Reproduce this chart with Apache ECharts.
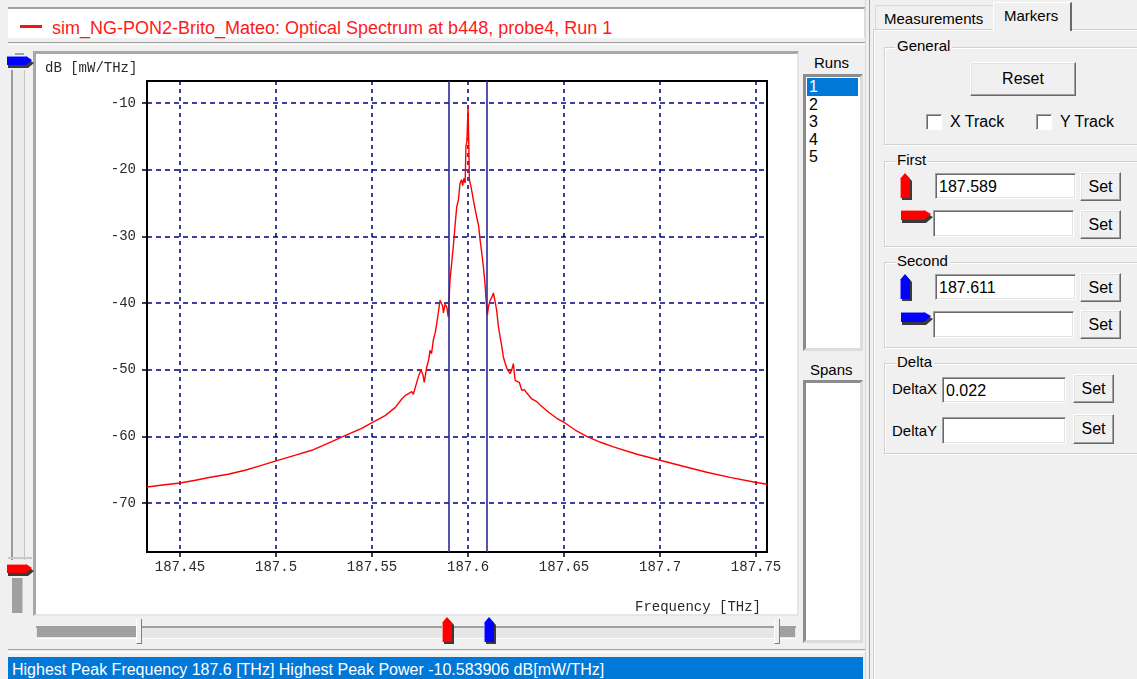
<!DOCTYPE html>
<html>
<head>
<meta charset="utf-8">
<title>Optical Spectrum</title>
<script src="https://cdn.jsdelivr.net/npm/echarts@6/dist/echarts.min.js"></script>
<style>
  html, body { margin: 0; padding: 0; }
  body {
    width: 1137px; height: 679px; overflow: hidden; position: relative;
    background: #f0f0f0; color: #000;
    font-family: "Liberation Sans", Arial, sans-serif;
  }
  .abs { position: absolute; box-sizing: border-box; }
  .txt { position: absolute; white-space: nowrap; line-height: 1; }
  .btn {
    position: absolute; box-sizing: border-box; background: #f0f0f0;
    border-top: 1px solid #fff; border-left: 1px solid #fff;
    border-right: 1px solid #696969; border-bottom: 1px solid #696969;
    box-shadow: inset -1px -1px 0 #a0a0a0, inset 1px 1px 0 #e3e3e3;
    font-size: 16px; display: flex; align-items: center; justify-content: center;
  }
  .inp {
    position: absolute; box-sizing: border-box; background: #fff;
    border-top: 1px solid #a0a0a0; border-left: 1px solid #a0a0a0;
    border-right: 1px solid #fff; border-bottom: 1px solid #fff;
    box-shadow: inset 1px 1px 0 #696969, inset -1px -1px 0 #e3e3e3;
    font-size: 16px; padding: 4px 0 0 3px;
  }
  .grp {
    position: absolute; box-sizing: border-box;
    border: 1px solid #d0d0d0; box-shadow: 1px 1px 0 #fff inset, 1px 1px 0 #fff;
  }
  .grp > span {
    position: absolute; left: 10px; top: -10px; background: #f0f0f0;
    padding: 0 2px; font-size: 15px; line-height: 1;
  }
  .chk {
    position: absolute; box-sizing: border-box; width: 16px; height: 16px; background: #fff;
    border-top: 1px solid #a0a0a0; border-left: 1px solid #a0a0a0;
    border-right: 1px solid #fff; border-bottom: 1px solid #fff;
    box-shadow: inset 1px 1px 0 #696969;
  }
  #chart { position: absolute; left: 0; top: 0; width: 1137px; height: 679px; z-index: 1; }
  .mk { position: absolute; z-index: 2; }
</style>
</head>
<body>

<!-- window title strip -->
<div class="abs" style="left:8px;top:7px;width:858px;height:31px;background:#fff;border-top:2px solid #a0a0a0;border-right:2px solid #dcdcdc;"></div>
<div class="abs" style="left:20px;top:25px;width:22px;height:3px;background:#ff1010;"></div>
<div class="txt" id="title" style="left:52px;top:19px;font-size:18px;color:#ff1a1a;"></div>
<div class="abs" style="left:8px;top:42px;width:858px;height:3px;border-top:1px solid #a0a0a0;border-bottom:1px solid #fff;"></div>

<!-- plot panel -->
<div class="abs" style="left:33px;top:51px;width:766px;height:565px;background:#fff;border-top:3px solid #a8a8a8;border-left:3px solid #a8a8a8;border-right:2px solid #e6e6e6;border-bottom:2px solid #e6e6e6;"></div>

<!-- vertical (power) slider -->
<div class="abs" style="left:15px;top:53px;width:9px;height:2px;background:#a0a0a0;"></div>
<div class="abs" style="left:11px;top:70px;width:14px;height:490px;background:#ececec;border-left:2px solid #9a9a9a;border-right:1px solid #c4c4c4;"></div>
<div class="abs" style="left:8px;top:557px;width:24px;height:2px;background:#c8c8c8;"></div>
<div class="abs" style="left:12px;top:578px;width:11px;height:35px;background:#a0a0a0;border-right:1px solid #c8c8c8;"></div>
<svg class="mk" style="left:7px;top:55px;" width="28" height="14"><polygon points="1,4 21,4 27,8 21,13 1,13" fill="#3a3a3a"/><polygon points="0,1 19,1 25,5 19,10 0,10" fill="#0000ff"/><line x1="0" y1="1.5" x2="19" y2="1.5" stroke="#8080ff"/></svg>
<svg class="mk" style="left:7px;top:563px;" width="28" height="14"><polygon points="1,4 21,4 27,8 21,13 1,13" fill="#3a3a3a"/><polygon points="0,1 19,1 25,5 19,10 0,10" fill="#ff0000"/><line x1="0" y1="1.5" x2="19" y2="1.5" stroke="#ff9090"/></svg>

<!-- horizontal (frequency) slider -->
<div class="abs" style="left:36px;top:626px;width:760px;height:13px;background:#e6e6e6;border-top:2px solid #a0a0a0;border-bottom:1px solid #fff;"></div>
<div class="abs" style="left:37px;top:627px;width:100px;height:10px;background:#a0a0a0;"></div>
<div class="abs" style="left:136px;top:619px;width:6px;height:25px;background:#f0f0f0;border-left:1px solid #fff;border-right:1px solid #808080;border-bottom:1px solid #808080;"></div>
<div class="abs" style="left:780px;top:627px;width:15px;height:10px;background:#a0a0a0;"></div>
<div class="abs" style="left:774px;top:619px;width:6px;height:25px;background:#f0f0f0;border-left:1px solid #fff;border-right:1px solid #808080;border-bottom:1px solid #808080;"></div>
<svg class="mk" id="sliderFirst" style="left:440px;top:616px;" width="17" height="29"><polygon points="3,9 7.5,3 13,9 13,28 3,28" fill="#3a3a3a"/><polygon points="1,7 6,1 11,7 11,26 1,26" fill="#ff0000"/><line x1="1.5" y1="7" x2="1.5" y2="26" stroke="#ff9090"/></svg>
<svg class="mk" id="sliderSecond" style="left:482px;top:616px;" width="17" height="29"><polygon points="3,9 7.5,3 13,9 13,28 3,28" fill="#3a3a3a"/><polygon points="1,7 6,1 11,7 11,26 1,26" fill="#0000ff"/><line x1="1.5" y1="7" x2="1.5" y2="26" stroke="#8080ff"/></svg>

<!-- runs / spans lists -->
<div class="txt" style="left:814px;top:55px;font-size:15px;">Runs</div>
<div class="abs" id="runList" style="left:803px;top:74px;width:60px;height:277px;background:#fff;border-top:3px solid #8c8c8c;border-left:3px solid #8c8c8c;border-right:3px solid #dcdcdc;border-bottom:3px solid #dcdcdc;"></div>
<div class="txt" style="left:810px;top:362px;font-size:15px;">Spans</div>
<div class="abs" style="left:803px;top:380px;width:60px;height:263px;background:#fff;border-top:3px solid #8c8c8c;border-left:3px solid #8c8c8c;border-right:3px solid #dcdcdc;border-bottom:3px solid #dcdcdc;"></div>

<!-- status bar -->
<div class="abs" style="left:8px;top:649px;width:858px;height:4px;border-top:1px solid #a0a0a0;border-bottom:1px solid #fff;"></div>
<div class="abs" style="left:8px;top:657px;width:855px;height:22px;background:#0078d7;"></div>
<div class="txt" id="status" style="left:12px;top:662px;font-size:16px;color:#fff;"></div>

<!-- side pane -->
<div class="abs" style="left:865px;top:0;width:5px;height:679px;border-left:1px solid #d8d8d8;border-right:1px solid #a0a0a0;"></div>
<div class="abs" style="left:874px;top:30px;width:270px;height:660px;border-top:1px solid #fff;border-left:1px solid #fff;box-shadow:-1px -1px 0 #d0d0d0;"></div>
<div class="abs" style="left:875px;top:5px;width:119px;height:26px;border-top:1px solid #d8d8d8;border-left:1px solid #d8d8d8;"></div>
<div class="txt" style="left:884px;top:11px;font-size:15px;">Measurements</div>
<div class="abs" style="left:993px;top:2px;width:79px;height:29px;background:#f0f0f0;border-top:1px solid #fff;border-left:1px solid #fff;border-right:2px solid #696969;"></div>
<div class="txt" style="left:1004px;top:8px;font-size:15px;">Markers</div>

<div class="grp" style="left:884px;top:47px;width:262px;height:98px;"><span>General</span></div>
<div class="btn" style="left:970px;top:62px;width:106px;height:34px;">Reset</div>
<div class="chk" style="left:926px;top:114px;"></div>
<div class="txt" style="left:950px;top:114px;font-size:16px;">X Track</div>
<div class="chk" style="left:1036px;top:114px;"></div>
<div class="txt" style="left:1060px;top:114px;font-size:16px;">Y Track</div>

<div class="grp" style="left:884px;top:161px;width:262px;height:86px;"><span>First</span></div>
<svg class="mk" style="left:899px;top:172px;" width="17" height="29"><polygon points="3,9 7.5,3 13,9 13,28 3,28" fill="#3a3a3a"/><polygon points="1,7 6,1 11,7 11,26 1,26" fill="#ff0000"/><line x1="1.5" y1="7" x2="1.5" y2="26" stroke="#ff9090"/></svg>
<div class="inp" id="firstX" style="left:935px;top:173px;width:141px;height:26px;"></div>
<div class="btn" style="left:1080px;top:172px;width:41px;height:29px;">Set</div>
<svg class="mk" style="left:901px;top:209px;" width="33" height="15"><polygon points="1,4 25,4 32,8 25,14 1,14" fill="#3a3a3a"/><polygon points="0,1 23,1 30,5 23,11 0,11" fill="#ff0000"/><line x1="0" y1="1.5" x2="23" y2="1.5" stroke="#ff9090"/></svg>
<div class="inp" style="left:933px;top:210px;width:141px;height:27px;"></div>
<div class="btn" style="left:1080px;top:210px;width:41px;height:29px;">Set</div>

<div class="grp" style="left:884px;top:262px;width:262px;height:86px;"><span>Second</span></div>
<svg class="mk" style="left:899px;top:273px;" width="17" height="29"><polygon points="3,9 7.5,3 13,9 13,28 3,28" fill="#3a3a3a"/><polygon points="1,7 6,1 11,7 11,26 1,26" fill="#0000ff"/><line x1="1.5" y1="7" x2="1.5" y2="26" stroke="#8080ff"/></svg>
<div class="inp" id="secondX" style="left:935px;top:274px;width:141px;height:26px;"></div>
<div class="btn" style="left:1080px;top:273px;width:41px;height:29px;">Set</div>
<svg class="mk" style="left:901px;top:311px;" width="33" height="15"><polygon points="1,4 25,4 32,8 25,14 1,14" fill="#3a3a3a"/><polygon points="0,1 23,1 30,5 23,11 0,11" fill="#0000ff"/><line x1="0" y1="1.5" x2="23" y2="1.5" stroke="#8080ff"/></svg>
<div class="inp" style="left:933px;top:311px;width:141px;height:27px;"></div>
<div class="btn" style="left:1080px;top:310px;width:41px;height:29px;">Set</div>

<div class="grp" style="left:884px;top:363px;width:262px;height:91px;"><span>Delta</span></div>
<div class="txt" style="left:892px;top:381px;font-size:15px;">DeltaX</div>
<div class="inp" id="deltaX" style="left:942px;top:377px;width:124px;height:26px;"></div>
<div class="btn" style="left:1073px;top:374px;width:41px;height:29px;">Set</div>
<div class="txt" style="left:892px;top:423px;font-size:15px;">DeltaY</div>
<div class="inp" style="left:942px;top:417px;width:124px;height:27px;"></div>
<div class="btn" style="left:1073px;top:414px;width:41px;height:30px;">Set</div>

<div id="chart"></div>

<script>
// Spectrum samples: frequency in THz and power density in dB[mW/THz]
const freqTHz = [
  187.4328, 187.4410, 187.4500, 187.4580, 187.4665, 187.4750, 187.4839, 187.4920,
  187.5000, 187.5093, 187.5186, 187.5290, 187.5359, 187.5446, 187.5498, 187.5568,
  187.5620, 187.5655, 187.5672, 187.5690, 187.5707, 187.5715, 187.5728, 187.5740,
  187.5755, 187.5765, 187.5772, 187.5785, 187.5795, 187.5802, 187.5810, 187.5819,
  187.5828, 187.5837, 187.5845, 187.5854, 187.5863, 187.5868, 187.5872, 187.5880,
  187.5889, 187.5897, 187.5902, 187.5906, 187.5915, 187.5923, 187.5932, 187.5941,
  187.5950, 187.5958, 187.5966, 187.5972, 187.5978, 187.5985, 187.5989, 187.5994,
  187.6000, 187.6004, 187.6007, 187.6015, 187.6022, 187.6028, 187.6036, 187.6045,
  187.6050, 187.6055, 187.6063, 187.6072, 187.6080, 187.6088, 187.6094, 187.6101,
  187.6106, 187.6115, 187.6123, 187.6132, 187.6140, 187.6149, 187.6158, 187.6167,
  187.6175, 187.6184, 187.6193, 187.6202, 187.6210, 187.6219, 187.6228, 187.6236,
  187.6245, 187.6255, 187.6267, 187.6280, 187.6293, 187.6306, 187.6332, 187.6358,
  187.6375, 187.6420, 187.6462, 187.6505, 187.6560, 187.6618, 187.6690, 187.6757,
  187.6880, 187.7000, 187.7120, 187.7243, 187.7370, 187.7495, 187.7557
];
const powerDb = [
  -67.6, -67.3, -67.0, -66.6, -66.1, -65.7, -65.1, -64.4,
  -63.7, -62.9, -62.1, -60.8, -59.9, -58.8, -58.0, -56.9,
  -55.7, -54.4, -53.9, -53.6, -53.3, -53.7, -52.4, -51.2,
  -50.0, -50.8, -51.9, -49.6, -48.5, -47.1, -47.6, -45.6,
  -44.6, -43.1, -41.5, -39.6, -39.3, -40.5, -41.5, -40.2,
  -40.6, -42.1, -39.0, -36.6, -34.0, -31.6, -28.5, -25.6,
  -24.5, -22.1, -21.5, -22.4, -21.3, -22.0, -16.5, -15.8,
  -10.583906, -16.3, -21.5, -22.5, -23.6, -24.6, -25.8, -27.1,
  -26.8, -28.4, -30.6, -32.6, -34.6, -37.0, -39.6, -41.8,
  -40.6, -39.6, -39.2, -38.5, -39.6, -41.1, -43.5, -45.1,
  -46.4, -48.1, -49.0, -49.8, -50.1, -50.6, -50.0, -49.1,
  -51.6, -51.3, -51.9, -53.1, -53.0, -53.5, -54.4, -54.8,
  -55.3, -56.4, -57.3, -58.0, -59.1, -60.0, -60.9, -61.6,
  -62.7, -63.6, -64.5, -65.4, -66.2, -66.9, -67.2
];

// Axis ticks and labels
const xTicks = [187.45, 187.5, 187.55, 187.6, 187.65, 187.7, 187.75];
const xTickLabels = ['187.45', '187.5', '187.55', '187.6', '187.65', '187.7', '187.75'];
const yTicks = [-10, -20, -30, -40, -50, -60, -70];
const yTickLabels = ['-10', '-20', '-30', '-40', '-50', '-60', '-70'];
const xRange = [187.4328, 187.7557];
const yRange = [-77.36, -6.70];

// Marker positions, peak readout and run list
const markerFirst = 187.589;
const markerSecond = 187.611;
const peakFreq = 187.6;
const peakPower = -10.583906;
const runs = ['1', '2', '3', '4', '5'];
const selectedRun = '1';
const signalName = 'sim_NG-PON2-Brito_Mateo: Optical Spectrum at b448, probe4, Run 1';

// --- text widgets ---
document.getElementById('title').textContent = signalName;
document.getElementById('status').textContent =
  'Highest Peak Frequency ' + peakFreq + ' [THz] Highest Peak Power ' + peakPower.toFixed(6) + ' dB[mW/THz]';
document.getElementById('firstX').textContent = markerFirst.toFixed(3);
document.getElementById('secondX').textContent = markerSecond.toFixed(3);
document.getElementById('deltaX').textContent = (markerSecond - markerFirst).toFixed(3);

const runList = document.getElementById('runList');
runs.forEach((r, i) => {
  const d = document.createElement('div');
  d.textContent = r;
  d.style.cssText = 'position:absolute;left:1px;width:51px;height:18px;font-size:16px;line-height:18px;padding-left:2px;box-sizing:border-box;top:' + (1 + i * 17.6) + 'px;';
  if (r === selectedRun) { d.style.background = '#0078d7'; d.style.color = '#fff'; }
  runList.appendChild(d);
});

// --- spectrum plot ---
const mono = '"Liberation Mono", "DejaVu Sans Mono", monospace';
const gridColor = '#00007f';
const chart = echarts.init(document.getElementById('chart'), null, { renderer: 'canvas' });
chart.setOption({
  animation: false,
  backgroundColor: 'transparent',
  grid: {
    left: 147, top: 81, width: 620, height: 471,
    show: true, backgroundColor: '#fff', borderColor: '#000', borderWidth: 2,
    containLabel: false, outerBoundsMode: 'none'
  },
  xAxis: {
    type: 'value', min: xRange[0], max: xRange[1],
    axisLine: { show: true, onZero: false, lineStyle: { color: '#000', width: 2 } },
    axisTick: { show: true, customValues: xTicks, length: 5, lineStyle: { color: '#000', width: 1.5 } },
    axisLabel: {
      customValues: xTicks, margin: 8, color: '#2a2a2a', fontFamily: mono, fontSize: 14,
      formatter: v => { const i = xTicks.indexOf(v); return i >= 0 ? xTickLabels[i] : String(v); }
    },
    splitLine: { show: true, lineStyle: { color: gridColor, width: 1.5, type: [4, 4] } }
  },
  yAxis: {
    type: 'value', min: yRange[0], max: yRange[1],
    axisLine: { show: true, onZero: false, lineStyle: { color: '#000', width: 2 } },
    axisTick: { show: true, customValues: yTicks, length: 5, lineStyle: { color: '#000', width: 1.5 } },
    axisLabel: {
      customValues: yTicks, margin: 11, color: '#2a2a2a', fontFamily: mono, fontSize: 14,
      formatter: v => { const i = yTicks.indexOf(v); return i >= 0 ? yTickLabels[i] : String(v); }
    },
    splitLine: { show: true, lineStyle: { color: gridColor, width: 1.5, type: [5, 4] } }
  },
  graphic: [
    { type: 'text', left: 45, top: 61, style: { text: 'dB [mW/THz]', font: '14px ' + mono, fill: '#2a2a2a' } },
    { type: 'text', left: 635, top: 600, style: { text: 'Frequency [THz]', font: '14px ' + mono, fill: '#2a2a2a' } }
  ],
  series: [{
    type: 'line',
    data: freqTHz.map((f, i) => [f, powerDb[i]]),
    symbol: 'none', showSymbol: false,
    lineStyle: { color: '#ff0000', width: 1.4 },
    itemStyle: { color: '#ff0000' },
    z: 3,
    markLine: {
      silent: true, symbol: ['none', 'none'], animation: false,
      label: { show: false },
      lineStyle: { color: '#2a2a95', width: 1.6, type: 'solid' },
      data: [{ xAxis: markerFirst }, { xAxis: markerSecond }]
    }
  }]
});

// place the slider markers under their marker lines
const placeMarker = (id, f) => {
  const px = chart.convertToPixel({ gridIndex: 0 }, [f, yRange[0]])[0];
  document.getElementById(id).style.left = Math.round(px - 6) + 'px';
};
placeMarker('sliderFirst', markerFirst);
placeMarker('sliderSecond', markerSecond);
</script>
</body>
</html>
